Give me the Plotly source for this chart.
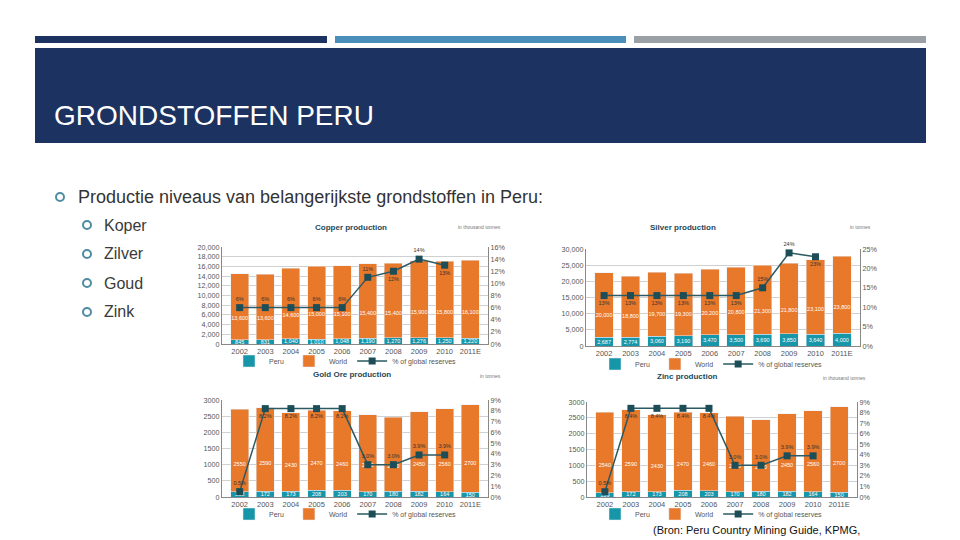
import plotly.graph_objects as go

# ---------------- data ----------------
years = ["2002", "2003", "2004", "2005", "2006", "2007", "2008", "2009", "2010", "2011E"]

copper_peru = [845, 831, 1040, 1010, 1048, 1190, 1270, 1276, 1250, 1220]
copper_world = [13600, 13600, 14600, 15000, 15100, 15400, 15400, 15900, 15800, 16100]
copper_pct = [6, 6, 6, 6, 6, 11, 12, 14, 13, None]

silver_peru = [2687, 2774, 3060, 3190, 3470, 3500, 3690, 3850, 3640, 4000]
silver_world = [20000, 18800, 19700, 19300, 20200, 20800, 21300, 21800, 23100, 23800]
silver_pct = [13, 13, 13, 13, 13, 13, 15, 24, 23, None]

gold_peru = [158, 172, 173, 208, 203, 170, 180, 182, 164, 150]
gold_world = [2550, 2590, 2430, 2470, 2460, 2380, 2280, 2450, 2560, 2700]
gold_pct = [0.5, 8.2, 8.2, 8.2, 8.2, 3.0, 3.0, 3.9, 3.9, None]

zinc_peru = [139, 172, 173, 208, 203, 170, 180, 182, 164, 150]
zinc_world = [2540, 2590, 2430, 2470, 2460, 2380, 2260, 2450, 2560, 2700]
zinc_pct = [0.5, 8.4, 8.4, 8.4, 8.4, 3.0, 3.0, 3.9, 3.9, None]

bullet_main = "Productie niveaus van belangerijkste grondstoffen in Peru:"
bullet_items = ["Koper", "Zilver", "Goud", "Zink"]

# ---------------- style ----------------
W, H = 960, 540
NAVY = "#1C3260"
BLUE = "#4A8FB9"
GREY = "#9BA0A6"
TEAL = "#1796AA"
ORANGE = "#E8782A"
LINE = "#2B5A63"
MARK = "#1D4E57"
TICK = "#555555"
FONT = "Liberation Sans"
WORLD_LABEL_FRAC = 0.33   # where the white World value sits inside the orange segment


def X(px):
    return px / W


def Y(py):
    return 1 - py / H


fig = go.Figure()

charts = [
    dict(peru=copper_peru, world=copper_world, pct=copper_pct,
         pos=["top center"] * 5 + ["top center", "bottom center", "top center", "bottom center", "top center"],
         xd=(222, 488), yd=(247, 344), title="Copper production", unit="in thousand tonnes",
         yr=20000, ydt=2000, yfmt=",", rr=16, rdt=2, pfmt="{:.0f}%", bfmt="{:,}",
         title_xy=(351, 227), unit_x=503, leg=(229, 361)),
    dict(peru=silver_peru, world=silver_world, pct=silver_pct,
         pos=["bottom center"] * 6 + ["top center", "top center", "bottom center", "top center"],
         xd=(586, 860), yd=(249, 346), title="Silver production", unit="in tonnes",
         yr=30000, ydt=5000, yfmt=",", rr=25, rdt=5, pfmt="{:.0f}%", bfmt="{:,}",
         title_xy=(718, 227), unit_x=873, leg=(595, 364)),
    dict(peru=gold_peru, world=gold_world, pct=gold_pct,
         pos=["top center"] + ["bottom center"] * 4 + ["top center"] * 5,
         xd=(222, 488), yd=(400, 497), title="Gold Ore production", unit="in tonnes",
         yr=3000, ydt=500, yfmt="d", rr=9, rdt=1, pfmt="{:.1f}%", bfmt="{}",
         title_xy=(352, 381), unit_x=503, leg=(229, 514)),
    dict(peru=zinc_peru, world=zinc_world, pct=zinc_pct,
         pos=["top center"] + ["bottom center"] * 4 + ["top center"] * 5,
         xd=(587, 857), yd=(402, 497), title="Zinc production", unit="in thousand tonnes",
         yr=3000, ydt=500, yfmt="d", rr=9, rdt=1, pfmt="{:.1f}%", bfmt="{}",
         title_xy=(720, 383), unit_x=868, leg=(595, 514)),
]

layout_axes = {}
annotations = []
for k, c in enumerate(charts, start=1):
    xa = "x" if k == 1 else f"x{k}"
    yl = 2 * k - 1
    yr_ = 2 * k
    yla = "y" if yl == 1 else f"y{yl}"
    yra = f"y{yr_}"
    leg = "legend" if k == 1 else f"legend{k}"

    fig.add_trace(go.Bar(x=years, y=c["peru"], name="Peru", marker_color=TEAL,
                         xaxis=xa, yaxis=yla, legend=leg,
                         text=[c["bfmt"].format(v) for v in c["peru"]],
                         textposition="inside", insidetextanchor="middle",
                         textangle=0, textfont=dict(size=5.5, color="white", family=FONT),
                         constraintext="none"))
    fig.add_trace(go.Bar(x=years, y=c["world"], name="World", marker_color=ORANGE,
                         xaxis=xa, yaxis=yla, legend=leg))
    # white World values, placed inside the orange segments
    fig.add_trace(go.Scatter(x=years,
                             y=[p + w * WORLD_LABEL_FRAC for p, w in zip(c["peru"], c["world"])],
                             mode="text", text=[c["bfmt"].format(v) for v in c["world"]],
                             textfont=dict(size=5.5, color="white", family=FONT),
                             xaxis=xa, yaxis=yla, showlegend=False, hoverinfo="skip"))
    fig.add_trace(go.Scatter(x=years, y=c["pct"], name="% of global reserves",
                             mode="lines+markers+text", xaxis=xa, yaxis=yra, legend=leg,
                             line=dict(color=LINE, width=1.5),
                             marker=dict(symbol="square", size=7, color=MARK),
                             text=[c["pfmt"].format(v) if v is not None else "" for v in c["pct"]],
                             textposition=c["pos"],
                             textfont=dict(size=5.5, color="#333333", family=FONT),
                             cliponaxis=False))

    xkey = "xaxis" if k == 1 else f"xaxis{k}"
    ylkey = "yaxis" if yl == 1 else f"yaxis{yl}"
    yrkey = f"yaxis{yr_}"
    layout_axes[xkey] = dict(domain=[X(c["xd"][0]), X(c["xd"][1])], anchor=yla,
                             type="category", showgrid=False, showline=True, linecolor="#888888",
                             linewidth=1, ticks="", automargin=False,
                             tickfont=dict(size=7.5, color=TICK, family=FONT))
    layout_axes[ylkey] = dict(domain=[Y(c["yd"][1]), Y(c["yd"][0])], anchor=xa,
                              range=[0, c["yr"]], dtick=c["ydt"], tickformat=c["yfmt"],
                              showgrid=True, gridcolor="#d0d0d0", gridwidth=0.8,
                              showline=True, linecolor="#888888", linewidth=1, mirror=False,
                              ticks="", zeroline=False, automargin=False,
                              tickfont=dict(size=7.2, color=TICK, family=FONT))
    layout_axes[yrkey] = dict(overlaying=yla, side="right", anchor=xa,
                              range=[0, c["rr"]], dtick=c["rdt"], ticksuffix="%",
                              showgrid=False, showline=True, linecolor="#888888", linewidth=1,
                              ticks="", zeroline=False, automargin=False,
                              tickfont=dict(size=7.2, color=TICK, family=FONT))
    layout_axes[leg] = dict(orientation="h", x=X(c["leg"][0]), y=Y(c["leg"][1]),
                            xanchor="left", yanchor="middle", bgcolor="rgba(0,0,0,0)",
                            font=dict(size=7, color=TICK, family=FONT), traceorder="normal",
                            itemwidth=30, tracegroupgap=0)
    annotations.append(dict(text=f"<b>{c['title']}</b>", x=X(c["title_xy"][0]), y=Y(c["title_xy"][1]),
                            xref="paper", yref="paper", showarrow=False,
                            font=dict(size=8, color="#24495A", family=FONT)))
    annotations.append(dict(text=c["unit"], x=X(c["unit_x"]), y=Y(c["title_xy"][1]),
                            xref="paper", yref="paper", showarrow=False, xanchor="right",
                            font=dict(size=5, color="#777777", family=FONT)))

# slide text
annotations.append(dict(text="GRONDSTOFFEN PERU", x=X(52), y=Y(115), xref="paper", yref="paper",
                        xanchor="left", yanchor="middle", showarrow=False,
                        font=dict(size=28, color="white", family=FONT)))
annotations.append(dict(text=bullet_main, x=X(76), y=Y(197), xref="paper", yref="paper",
                        xanchor="left", yanchor="middle", showarrow=False,
                        font=dict(size=18, color="#333333", family=FONT)))
for i, t in enumerate(bullet_items):
    annotations.append(dict(text=t, x=X(102), y=Y(225 + 29 * i), xref="paper", yref="paper",
                            xanchor="left", yanchor="middle", showarrow=False,
                            font=dict(size=16, color="#3a3a3a", family=FONT)))
annotations.append(dict(text="(Bron: Peru Country Mining Guide, KPMG,", x=X(651), y=Y(530),
                        xref="paper", yref="paper", xanchor="left", yanchor="middle", showarrow=False,
                        font=dict(size=11, color="#111111", family=FONT)))
annotations.append(dict(text="2010)", x=X(651), y=Y(537), xref="paper", yref="paper",
                        xanchor="left", yanchor="top", showarrow=False,
                        font=dict(size=11, color="#111111", family=FONT)))

shapes = [
    dict(type="rect", x0=X(35), x1=X(327), y0=Y(43), y1=Y(36), fillcolor=NAVY, line_width=0),
    dict(type="rect", x0=X(335), x1=X(626), y0=Y(43), y1=Y(36), fillcolor=BLUE, line_width=0),
    dict(type="rect", x0=X(634), x1=X(926), y0=Y(43), y1=Y(36), fillcolor=GREY, line_width=0),
    dict(type="rect", x0=X(35), x1=X(926), y0=Y(143), y1=Y(48), fillcolor=NAVY, line_width=0),
    dict(type="circle", x0=X(56), x1=X(64), y0=Y(201), y1=Y(193), line=dict(color="#4E8CA3", width=2)),
]
for i in range(len(bullet_items)):
    cy = 225 + 29 * i
    shapes.append(dict(type="circle", x0=X(83), x1=X(91), y0=Y(cy + 4), y1=Y(cy - 4),
                       line=dict(color="#4E8CA3", width=2)))
for s in shapes:
    s.update(xref="paper", yref="paper", layer="below")

fig.update_layout(width=W, height=H, margin=dict(l=0, r=0, t=0, b=0, autoexpand=False),
                  paper_bgcolor="white", plot_bgcolor="white",
                  barmode="stack", bargap=0.3,
                  annotations=annotations, shapes=shapes,
                  font=dict(family=FONT), **layout_axes)

fig.write_html("out.html", config={"displayModeBar": False},
               post_script="document.body.style.margin='0';document.body.style.overflow='hidden';")
